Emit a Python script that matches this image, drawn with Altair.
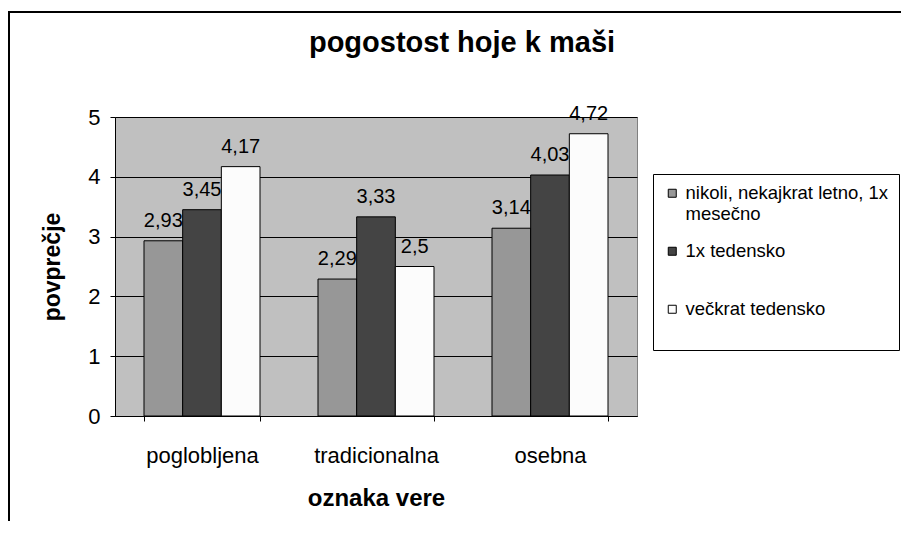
import altair as alt
import pandas as pd

categories = ["poglobljena", "tradicionalna", "osebna"]
series = ["nikoli, nekajkrat letno, 1x mesečno", "1x tedensko", "večkrat tedensko"]
values_nikoli = [2.93, 2.29, 3.14]
values_1x = [3.45, 3.33, 4.03]
values_veckrat = [4.17, 2.5, 4.72]
colors = ["#979797", "#444444", "#FCFCFC"]

rows = []
for s, vals in zip(series, [values_nikoli, values_1x, values_veckrat]):
    for c, v in zip(categories, vals):
        rows.append({"oznaka": c, "serija": s, "vrednost": v})
df = pd.DataFrame(rows)

FONT = "Liberation Sans"

x_enc = alt.X(
    "oznaka:N",
    sort=categories,
    scale=alt.Scale(paddingInner=1 / 3, paddingOuter=1 / 6),
    axis=alt.Axis(
        title="oznaka vere",
        labelAngle=0,
        labelFontSize=22,
        labelBaseline="alphabetic",
        labelPadding=41,
        tickBand="extent",
        tickSize=5,
        titleFontSize=24,
        titleFontWeight="bold",
        titleBaseline="alphabetic",
        titleY=89,
    ),
)
xoff = alt.XOffset("serija:N", sort=series, scale=alt.Scale(paddingInner=0, paddingOuter=0))
y_enc = alt.Y(
    "vrednost:Q",
    scale=alt.Scale(domain=[0, 5], nice=False),
    axis=alt.Axis(
        title="povprečje",
        values=[0, 1, 2, 3, 4, 5],
        labelFontSize=22,
        labelPadding=10,
        tickSize=5,
        grid=True,
        gridColor="black",
        gridOpacity=1,
        titleFontSize=23,
        titleFontWeight="bold",
        titleBaseline="alphabetic",
        titleX=-56,
    ),
)

label_expr = (
    "datum.label == 'nikoli, nekajkrat letno, 1x mesečno' ? "
    "['nikoli, nekajkrat letno, 1x', 'mesečno'] : "
    "[datum.label, '']"
)

base = alt.Chart(df).encode(x=x_enc, xOffset=xoff, y=y_enc)

bars = base.mark_bar(stroke="black", strokeWidth=1).encode(
    color=alt.Color(
        "serija:N",
        sort=series,
        scale=alt.Scale(domain=series, range=colors),
        legend=alt.Legend(
            title=None,
            orient="none",
            legendX=538,
            legendY=57,
            padding=10,
            strokeColor="black",
            fillColor="white",
            symbolType="square",
            symbolSize=64,
            symbolStrokeColor="black",
            symbolStrokeWidth=1,
            labelFontSize=18.5,
            labelOffset=4,
            labelLimit=400,
            rowPadding=18,
            labelExpr=label_expr,
        ),
    )
)

texts = base.transform_calculate(
    oznaka_txt="replace(toString(datum.vrednost), '.', ',')"
).mark_text(baseline="alphabetic", dy=-14, fontSize=20, color="black", font=FONT).encode(
    text="oznaka_txt:N"
)

frame_df = pd.DataFrame({"k": [0]})
frame_left = alt.Chart(frame_df).mark_rule(color="black", strokeWidth=2).encode(
    x=alt.value(-106), y=alt.value(-105), y2=alt.value(520)
)
frame_top = alt.Chart(frame_df).mark_rule(color="black", strokeWidth=2).encode(
    x=alt.value(-107), x2=alt.value(800), y=alt.value(-105)
)

chart = (
    alt.layer(bars, texts, frame_left, frame_top)
    .properties(
        width=522,
        height=299,
        padding={"left": 107, "top": 109, "right": 264, "bottom": 105},
        autosize=alt.AutoSizeParams(type="none"),
        title=alt.TitleParams(
            "pogostost hoje k maši",
            fontSize=29,
            fontWeight="bold",
            font=FONT,
            color="black",
            anchor="middle",
            dx=86,
            offset=-47,
        ),
        background="white",
    )
    .configure(font=FONT)
    .configure_view(fill="#C0C0C0", stroke="#808080", strokeWidth=1)
    .configure_axis(
        labelColor="black",
        titleColor="black",
        tickColor="black",
        domainColor="black",
        labelFont=FONT,
        titleFont=FONT,
    )
    .configure_legend(labelFont=FONT, labelColor="black")
)

chart.save("out.html", embed_options={"renderer": "svg", "actions": False})
